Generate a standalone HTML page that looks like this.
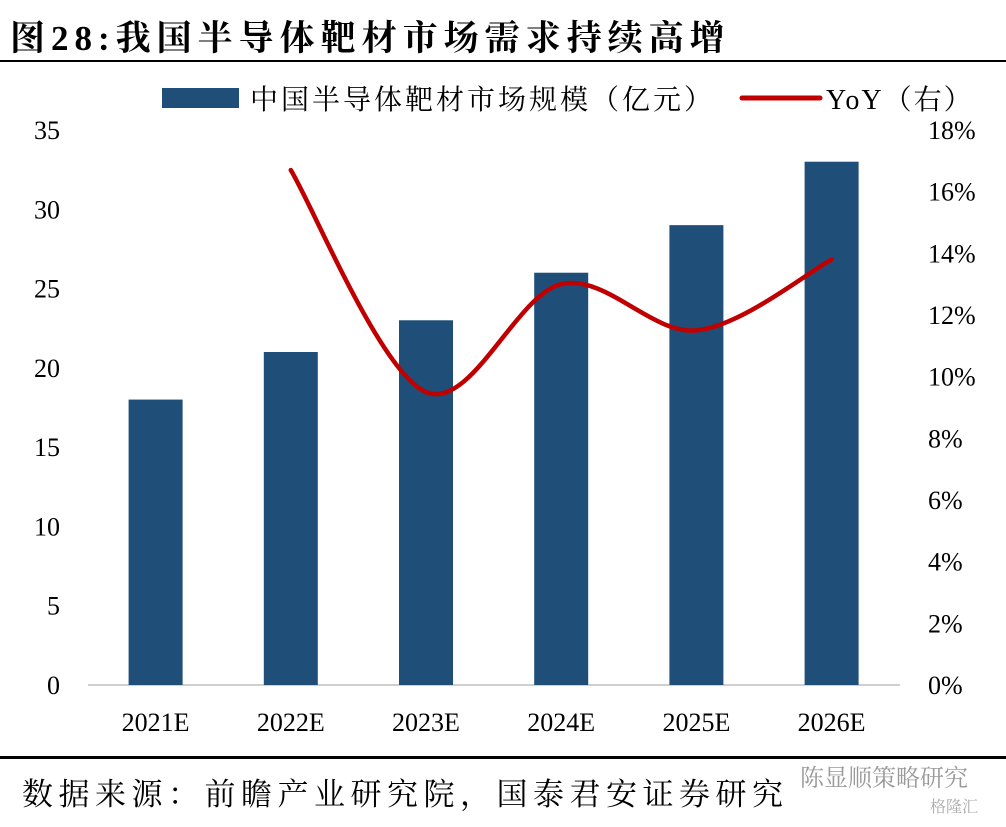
<!DOCTYPE html>
<html><head><meta charset="utf-8">
<style>
body{margin:0;background:#fff;}
svg text{font-family:"Liberation Serif","Noto Serif CJK SC",serif;}
</style></head>
<body>
<svg id="chart" width="1006" height="822" xmlns="http://www.w3.org/2000/svg">
<text x="10" y="50" font-size="35" font-weight="bold" fill="#000" letter-spacing="6">图28:我国半导体靶材市场需求持续高增</text>
<rect x="0" y="60" width="1006" height="2" fill="#000"/>
<g>
<rect x="162" y="88" width="77" height="20" fill="#1f4e79"/>
<text x="250" y="109" font-size="28" fill="#000" letter-spacing="3">中国半导体靶材市场规模（亿元）</text>
<line x1="742" y1="98" x2="820" y2="98" stroke="#c00000" stroke-width="5" stroke-linecap="round"/>
<text x="826" y="109" font-size="28" fill="#000" letter-spacing="2">YoY（右）</text>
</g>
<g id="plot"></g>
<rect x="0" y="756" width="1006" height="3" fill="#000"/>
<text x="22" y="805" font-size="31" fill="#000" letter-spacing="5.5">数据来源：前瞻产业研究院，国泰君安证券研究</text>
<text x="800" y="786" font-size="24" fill="#999" font-family="Liberation Sans, Noto Sans CJK SC, sans-serif">陈显顺策略研究</text>
<text x="930" y="812" font-size="16" fill="#aaa" font-family="Liberation Sans, Noto Sans CJK SC, sans-serif">格隆汇</text>
</svg>
<script>
const categories=["2021E","2022E","2023E","2024E","2025E","2026E"];
const marketSize=[18,21,23,26,29,33];
const yoy=[null,16.7,9.5,13.0,11.5,13.8];
const leftTicks=[0,5,10,15,20,25,30,35];
const rightTicks=[0,2,4,6,8,10,12,14,16,18];

const NS="http://www.w3.org/2000/svg";
const g=document.getElementById('plot');
const y0=685,yTop=130,xStart=88,step=135.2;
const yL=v=>y0-(v/35)*(y0-yTop);
const yR=v=>y0-(v/18)*(y0-yTop);
const xC=i=>xStart+step*(i+0.5);
function mk(tag,attrs){const e=document.createElementNS(NS,tag);for(const k in attrs)e.setAttribute(k,attrs[k]);g.appendChild(e);return e;}

const axis=mk('line',{x1:88,y1:y0,x2:900,y2:y0,stroke:'#bfbfbf','stroke-width':1.5});



leftTicks.forEach(v=>{const t=mk('text',{x:60,y:yL(v)+9,'font-size':26,'text-anchor':'end'});t.textContent=v;

});
rightTicks.forEach(v=>{const t=mk('text',{x:928,y:yR(v)+9,'font-size':26});t.textContent=v+'%';

});

categories.forEach((c,i)=>{
 const b=mk('rect',{x:xC(i)-27,y:yL(marketSize[i]),width:54,height:y0-yL(marketSize[i]),fill:'#1f4e79'});
 
 
 const t=mk('text',{x:xC(i),y:731,'font-size':26,'text-anchor':'middle'});t.textContent=c;
 
 
});

const pts=[];yoy.forEach((v,i)=>{if(v!==null)pts.push([xC(i),yR(v)]);});
let d='M'+pts[0][0]+','+pts[0][1];
for(let i=0;i<pts.length-1;i++){
 const p0=pts[i-1]||pts[i],p1=pts[i],p2=pts[i+1],p3=pts[i+2]||p2;const k=6;
 d+=' C'+(p1[0]+(p2[0]-p0[0])/k)+','+(p1[1]+(p2[1]-p0[1])/k)+' '+(p2[0]-(p3[0]-p1[0])/k)+','+(p2[1]-(p3[1]-p1[1])/k)+' '+p2[0]+','+p2[1];
}
const line=mk('path',{d:d,fill:'none',stroke:'#c00000','stroke-width':4.5,'stroke-linecap':'round'});


</script>
</body></html>
